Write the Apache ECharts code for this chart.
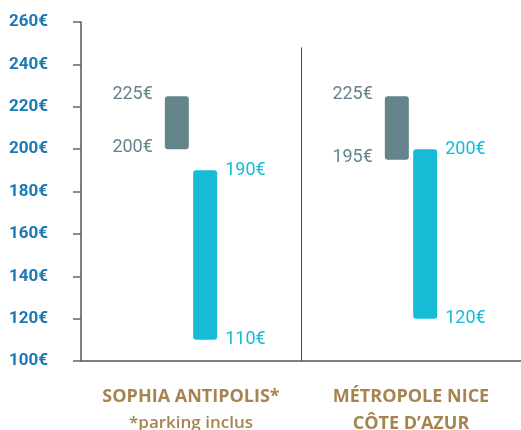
<!DOCTYPE html>
<html>
<head>
<meta charset="utf-8">
<script src="https://cdn.jsdelivr.net/npm/echarts@6/dist/echarts.min.js"></script>
<style>
  html, body { margin: 0; padding: 0; background: #fff; }
  #chart { width: 521px; height: 430px; }
</style>
</head>
<body>
<div id="chart"></div>
<script>
// category titles and the small note under them
const catTitles = ["SOPHIA ANTIPOLIS*", "MÉTROPOLE NICE\nCÔTE D’AZUR"];
const catNotes = ["*parking inclus", ""];

// price ranges (€)
const greyLow = [200, 195];
const greyHigh = [225, 225];
const cyanLow = [110, 120];
const cyanHigh = [190, 200];

const yTicks = [100, 120, 140, 160, 180, 200, 220, 240, 260];

const GREY = "#62848a";
const CYAN = "#16bcd6";
const BROWN = "#a5844f";

const chart = echarts.init(document.getElementById("chart"));

const euro = (v) => v + "€";

const leftLabel = (fmt) => ({
  show: true,
  position: [0, 0],
  offset: [-12, -2],
  align: "right",
  verticalAlign: "middle",
  color: GREY,
  fontFamily: "Roboto",
  fontSize: 18,
  formatter: fmt,
});

const rightLabel = (fmt) => ({
  show: true,
  position: ["100%", 0],
  offset: [8, 0],
  align: "left",
  verticalAlign: "middle",
  color: CYAN,
  fontFamily: "Roboto",
  fontSize: 18,
  formatter: fmt,
});

chart.setOption({
  animation: false,
  grid: { left: 81, right: 0, top: 22, bottom: 69, outerBoundsMode: "none", containLabel: false },
  xAxis: [
    {
      type: "category",
      data: catTitles,
      axisLine: { lineStyle: { color: "#555", width: 1.5 } },
      axisTick: { show: false },
      axisLabel: {
        margin: 22,
        interval: 0,
        formatter: (v, i) => {
          const lines = v.split("\n").map((l) => "{t|" + l + "}");
          if (catNotes[i]) lines.push("{n|" + catNotes[i] + "}");
          return lines.join("\n");
        },
        rich: {
          t: {
            color: BROWN,
            fontFamily: "Open Sans",
            fontWeight: "bold",
            fontSize: 18,
            lineHeight: 27,
          },
          n: {
            color: BROWN,
            fontFamily: "Open Sans",
            fontWeight: 600,
            fontSize: 17,
            lineHeight: 27,
          },
        },
      },
    },
    { type: "value", min: 0, max: 2, show: false },
  ],
  yAxis: {
    type: "value",
    min: yTicks[0],
    max: yTicks[yTicks.length - 1],
    interval: 20,
    axisLine: { show: true, lineStyle: { color: "#555", width: 1.5 } },
    axisTick: { show: true, length: 8, lineStyle: { color: "#666", width: 1.5 } },
    splitLine: { show: false },
    axisLabel: {
      margin: 33,
      color: "#1b79b4",
      fontFamily: "Roboto",
      fontWeight: "bold",
      fontSize: 17,
      formatter: "{value}€",
    },
  },
  series: [
    {
      type: "bar",
      stack: "grey",
      barWidth: 24,
      barGap: "18%",
      data: greyLow,
      itemStyle: { color: "transparent" },
      label: leftLabel((p) => euro(greyLow[p.dataIndex])),
      silent: true,
    },
    {
      type: "bar",
      stack: "grey",
      data: greyHigh.map((h, i) => h - greyLow[i]),
      itemStyle: { color: GREY, borderRadius: 3 },
      label: leftLabel((p) => euro(greyHigh[p.dataIndex])),
    },
    {
      type: "bar",
      stack: "cyan",
      barWidth: 24,
      data: cyanLow,
      itemStyle: { color: "transparent" },
      label: rightLabel((p) => euro(cyanLow[p.dataIndex])),
      silent: true,
    },
    {
      type: "bar",
      stack: "cyan",
      data: cyanHigh.map((h, i) => h - cyanLow[i]),
      itemStyle: { color: CYAN, borderRadius: 3 },
      label: rightLabel((p) => euro(cyanHigh[p.dataIndex])),
    },
    {
      // divider between the two areas
      type: "line",
      xAxisIndex: 1,
      data: [],
      markLine: {
        silent: true,
        symbol: "none",
        label: { show: false },
        lineStyle: { color: "#444", width: 1, type: "solid" },
        data: [[{ coord: [1, 248] }, { coord: [1, 100] }]],
      },
    },
  ],
});

window.addEventListener("resize", () => chart.resize());
</script>
</body>
</html>
